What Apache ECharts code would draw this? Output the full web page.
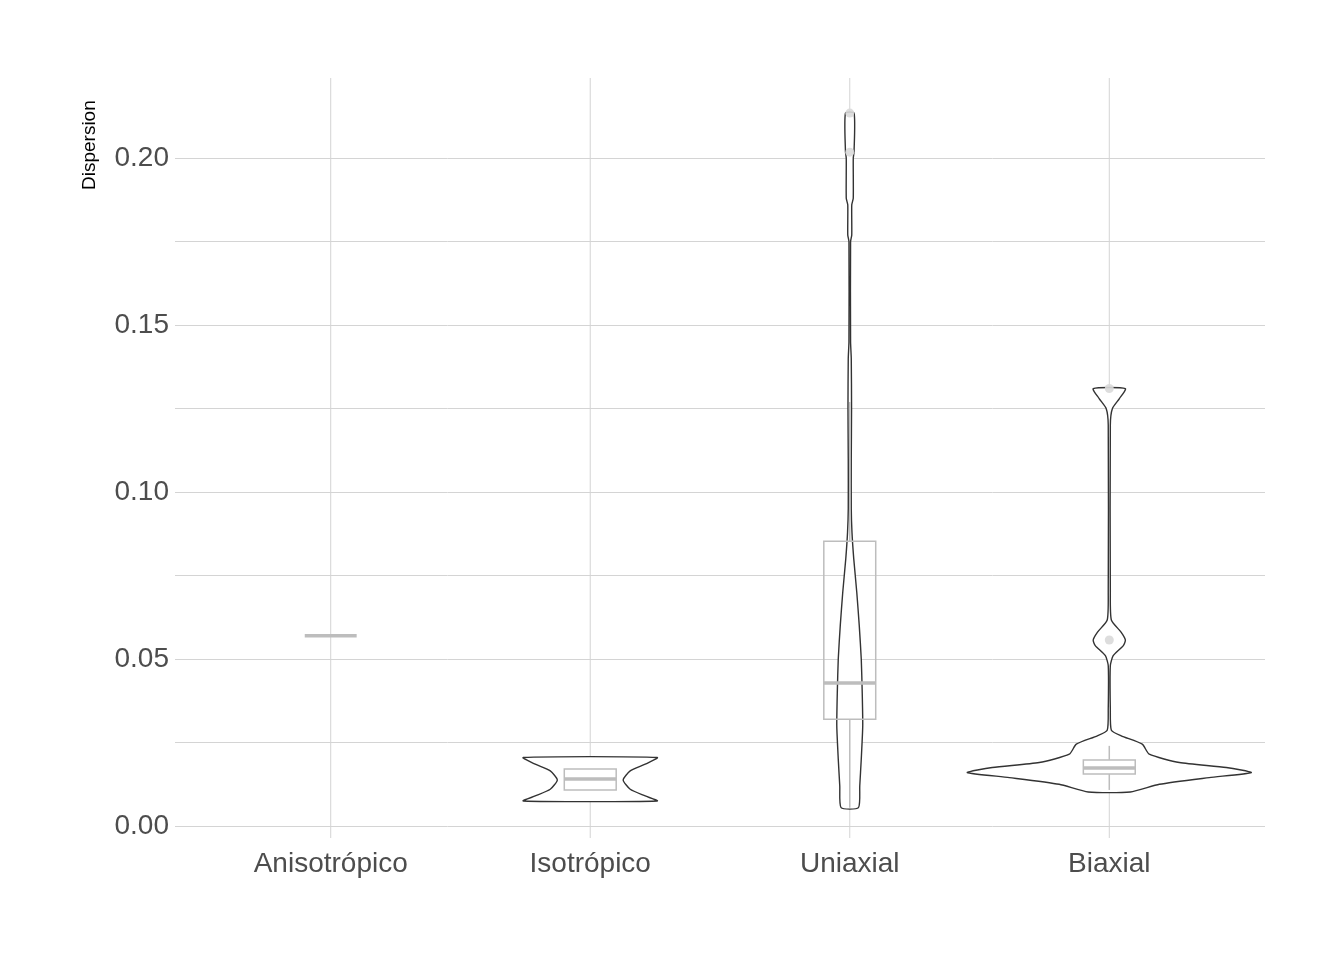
<!DOCTYPE html>
<html>
<head>
<meta charset="utf-8">
<script src="https://cdn.jsdelivr.net/npm/echarts@6/dist/echarts.min.js"></script>
<style>html,body{margin:0;background:#fff}#chart{width:1344px;height:960px}</style>
</head>
<body>
<div id="chart"></div>
<script>
var categories = ['Anisotrópico', 'Isotrópico', 'Uniaxial', 'Biaxial'];
var yTicks = [0, 0.05, 0.10, 0.15, 0.20];

// violin outlines: [value, half width in category units]
var violinAniso = [];
var violinIso = [[0.0075,0.258],[0.009,0.212],[0.011,0.154],[0.0138,0.127],[0.0165,0.154],[0.0185,0.212],[0.0205,0.258]];
var violinUni = [[0.0055,0.0335],[0.012,0.0385],[0.02,0.0443],[0.03,0.050],[0.04,0.048],[0.05,0.0443],[0.06,0.0366],[0.07,0.027],[0.08,0.0154],[0.088,0.0085],[0.095,0.0058],[0.11,0.0058],[0.125,0.0069],[0.14,0.0058],[0.145,0.0031],[0.175,0.0031],[0.177,0.0077],[0.186,0.0077],[0.188,0.0135],[0.2,0.0135],[0.202,0.0166],[0.2135,0.0166]];
var violinBia = [[0.0102,0.081],[0.0125,0.193],[0.0145,0.385],[0.016,0.547],[0.0175,0.451],[0.019,0.27],[0.0215,0.154],[0.0245,0.127],[0.027,0.046],[0.0287,0.008],[0.035,0.004],[0.048,0.004],[0.051,0.015],[0.054,0.054],[0.0557,0.062],[0.058,0.046],[0.0617,0.008],[0.07,0.004],[0.12,0.004],[0.125,0.012],[0.128,0.039],[0.131,0.062]];
var violins = [violinAniso, violinIso, violinUni, violinBia];

// boxplot stats per category
var whiskerLow = [0.057, 0.0108, 0.0055, 0.0108];
var q1 = [0.057, 0.0108, 0.032, 0.0156];
var median = [0.057, 0.0141, 0.0428, 0.0174];
var q3 = [0.057, 0.0171, 0.0853, 0.0198];
var whiskerHigh = [0.057, 0.0171, 0.127, 0.024];
var outliers = [[3, 0.2018], [3, 0.2135], [4, 0.0557], [4, 0.131]];

var chart = echarts.init(document.getElementById('chart'));
var boxHalf = 0.1;

function renderItem(params, api) {
    var i = params.dataIndex;
    var x = i + 1;
    var cs = params.coordSys;
    var children = [];
    var cx = api.coord([x, 0])[0];
    children.push({type: 'line', shape: {x1: cx, y1: cs.y, x2: cx, y2: cs.y + cs.height + 12},
        style: {stroke: '#d4d4d4', lineWidth: 1}, z2: 0});
    var v = violins[i];
    if (v.length) {
        var pts = [];
        for (var k = 0; k < v.length; k++) pts.push(api.coord([x - v[k][1], v[k][0]]));
        for (var k = v.length - 1; k >= 0; k--) pts.push(api.coord([x + v[k][1], v[k][0]]));
        children.push({type: 'polygon', shape: {points: pts, smooth: 0.2},
            style: {fill: '#fff', stroke: '#333333', lineWidth: 1.4}, z2: 1});
    }
    var l = api.coord([x - boxHalf, q3[i]]);
    var r = api.coord([x + boxHalf, q1[i]]);
    var st = {stroke: '#bdbdbd', lineWidth: 1.5, fill: null};
    children.push({type: 'line', shape: {x1: cx, y1: api.coord([x, whiskerHigh[i]])[1], x2: cx, y2: l[1]}, style: st, z2: 2});
    children.push({type: 'line', shape: {x1: cx, y1: r[1], x2: cx, y2: api.coord([x, whiskerLow[i]])[1]}, style: st, z2: 2});
    if (q3[i] !== q1[i]) {
        children.push({type: 'rect', shape: {x: l[0], y: l[1], width: r[0] - l[0], height: r[1] - l[1]}, style: st, z2: 2});
    }
    var m = api.coord([x, median[i]])[1];
    children.push({type: 'line', shape: {x1: l[0], y1: m, x2: r[0], y2: m},
        style: {stroke: '#bdbdbd', lineWidth: 3.5}, z2: 3});
    return {type: 'group', children: children};
}

chart.setOption({
    animation: false,
    backgroundColor: '#fff',
    grid: {left: 175, right: 79, top: 78, bottom: 134},
    xAxis: {
        type: 'value', min: 0.4, max: 4.6,
        axisLine: {show: false}, axisTick: {show: false}, splitLine: {show: false},
        axisLabel: {
            customValues: [1, 2, 3, 4],
            formatter: function (val) { return categories[Math.round(val) - 1]; },
            fontSize: 28, color: '#4d4d4d', fontFamily: 'Liberation Sans, Arial', margin: 24
        }
    },
    yAxis: {
        type: 'value', min: 0, max: 0.224, interval: 0.025,
        axisLine: {show: false}, axisTick: {show: false},
        splitLine: {showMaxLine: false, lineStyle: {color: '#d4d4d4', width: 1}},
        axisLabel: {
            formatter: function (val) {
                for (var t = 0; t < yTicks.length; t++) {
                    if (Math.abs(val - yTicks[t]) < 1e-9) return val.toFixed(2);
                }
                return '';
            },
            fontSize: 28, color: '#4d4d4d', fontFamily: 'Liberation Sans, Arial', margin: 6,
            showMaxLabel: false
        }
    },
    graphic: [{
        type: 'text', x: 80, y: 190, rotation: Math.PI / 2,
        style: {text: 'Dispersion', fontSize: 19, fill: '#000', fontFamily: 'Liberation Sans, Arial'}
    }],
    series: [{
        type: 'custom',
        renderItem: renderItem,
        data: categories.map(function (c, i) { return [i + 1, median[i]]; }),
        z: 2
    }, {
        type: 'scatter',
        data: outliers,
        symbolSize: 9,
        itemStyle: {color: '#d9d9d9', opacity: 0.9},
        z: 3
    }]
});
</script>
</body>
</html>
